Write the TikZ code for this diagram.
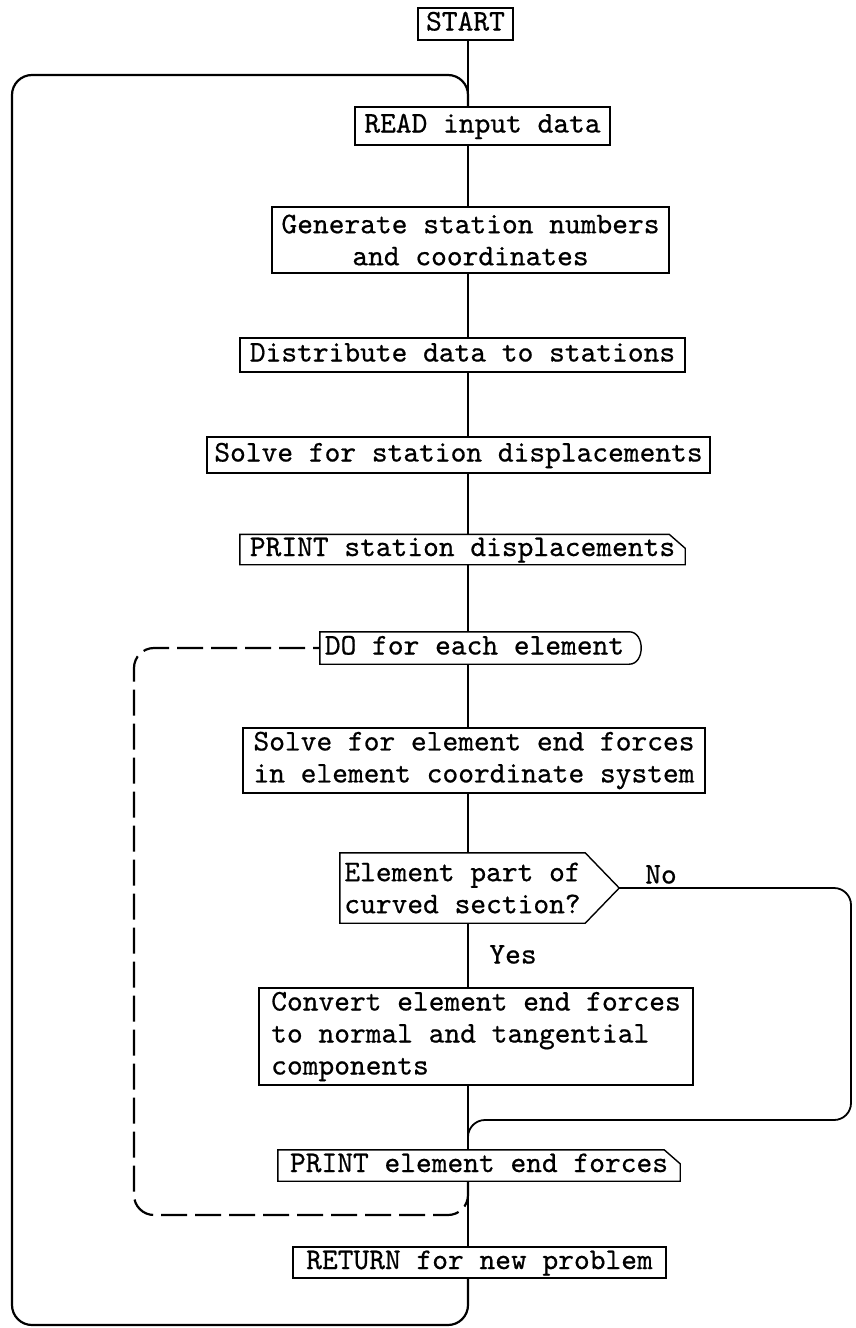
\documentclass[tikz,border=0pt]{standalone}
\usepackage{fontspec}
\newfontfamily\tw{lmmono10-regular}[Extension=.otf, FakeBold=0.6]
\usetikzlibrary{calc}
\begin{document}
\begin{tikzpicture}[x=1pt,y=-1pt,
  every node/.style={inner sep=0pt, font=\fontsize{30}{32}\selectfont\tw},
  conn/.style={line width=1.8pt},
  frame/.style={draw, line width=1.4pt},
  one/.style={text height=19pt, text depth=6pt},
  loopline/.style={line width=2.2pt, rounded corners=20pt},
  dashloop/.style={line width=2.2pt, rounded corners=20pt, dash pattern=on 26pt off 8pt},
]
\useasboundingbox (0,0) rectangle (855,1328);
\coordinate (mx) at (468,0);

% nodes
\node[frame, one, minimum width=95pt, minimum height=32pt] (start) at (465.5,24) {START};
\node[frame, one, minimum width=255pt, minimum height=38pt] (read) at (482.5,126) {READ input data};
\node[frame, align=center, minimum width=397pt, minimum height=66pt] (gen) at (470.5,240) {Generate station numbers\\and coordinates};
\node[frame, one, minimum width=445pt, minimum height=34pt] (dist) at (462.5,355) {Distribute data to stations};
\node[frame, one, minimum width=503pt, minimum height=36pt] (ssd) at (458.5,455) {Solve for station displacements};
\node[one, minimum width=445pt, minimum height=30pt] (pst) at (462.5,549.5) {PRINT station displacements};
\node[one, minimum width=309pt, minimum height=32pt] (do) at (474.5,648) {DO for each element};
\node[frame, align=left, minimum width=462pt, minimum height=65pt] (sel) at (474,760.5) {Solve for element end forces\\in element coordinate system};
\node[align=left, minimum width=245pt, minimum height=70pt] (dec) at (462.5,888) {Element part of\\curved section?};
\node[frame, align=left, minimum width=434pt, minimum height=97pt] (conv) at (476,1036.5) {Convert element end forces\\to normal and tangential\\components\hphantom{ and tangential  }};
\node[one, minimum width=402pt, minimum height=31pt] (pel) at (479,1165.5) {PRINT element end forces};
\node[frame, one, minimum width=373pt, minimum height=31pt] (ret) at (479.5,1262.5) {RETURN for new problem};
\node[one] (yes) at (513,957) {Yes};
\node[one] (no) at (661,877) {No};

% special outlines
\draw[frame] (pst.north west) -- ($(pst.north east)+(-16,0)$) -- ($(pst.north east)+(0,14)$) -- (pst.south east) -- (pst.south west) -- cycle;
\draw[frame] (pel.north west) -- ($(pel.north east)+(-16,0)$) -- ($(pel.north east)+(0,14)$) -- (pel.south east) -- (pel.south west) -- cycle;
\draw[frame] (do.north west) -- (do.north east) .. controls +(16,0) and +(16,0) .. (do.south east) -- (do.south west) -- cycle;
\coordinate (apex) at ($(dec.east)+(34,0)$);
\draw[frame] (dec.north west) -- (dec.north east) -- (apex) -- (dec.south east) -- (dec.south west) -- cycle;

% main flow
\draw[conn] (start.south -| mx) -- (read.north -| mx);
\draw[conn] (read.south -| mx) -- (gen.north -| mx);
\draw[conn] (gen.south -| mx) -- (dist.north -| mx);
\draw[conn] (dist.south -| mx) -- (ssd.north -| mx);
\draw[conn] (ssd.south -| mx) -- (pst.north -| mx);
\draw[conn] (pst.south -| mx) -- (do.north -| mx);
\draw[conn] (do.south -| mx) -- (sel.north -| mx);
\draw[conn] (sel.south -| mx) -- (dec.north -| mx);
\draw[conn] (dec.south -| mx) -- (conv.north -| mx);
\draw[conn] (conv.south -| mx) -- (pel.north -| mx);
\draw[conn] (pel.south -| mx) -- (ret.north -| mx);

% loops
\coordinate (nor) at (851,888);
\coordinate (nbr) at (851,1120);
\coordinate (nbl) at (468,1120);
\draw[conn, rounded corners=17pt] (apex) -- (nor) -- (nbr) -- (nbl) -- (pel.north -| mx);

\coordinate (dbr) at (468,1215);
\coordinate (dbl) at (134,1215);
\coordinate (dtl) at (134,648);
\draw[dashloop] (pel.south -| mx) -- (dbr) -- (dbl) -- (dtl) -- (do.west);

\coordinate (obr) at (468,1325);
\coordinate (obl) at (12,1325);
\coordinate (otl) at (12,75);
\coordinate (otr) at (468,75);
\draw[loopline] (ret.south -| mx) -- (obr) -- (obl) -- (otl) -- (otr) -- (read.north -| mx);
\end{tikzpicture}
\end{document}
